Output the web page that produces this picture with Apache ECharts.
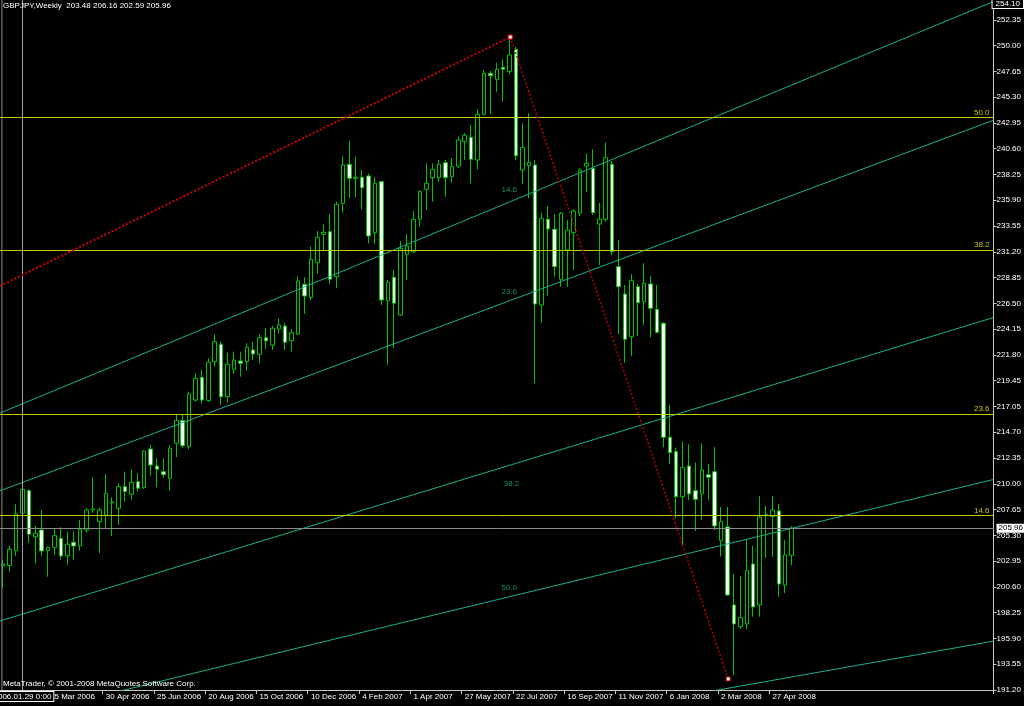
<!DOCTYPE html>
<html><head><meta charset="utf-8">
<script src="https://cdn.jsdelivr.net/npm/echarts@6/dist/echarts.min.js"></script>
<style>html,body{margin:0;padding:0;background:#000}#c{width:1024px;height:706px}</style>
</head><body><div id="c"></div>
<script>
// ---- data (GBPJPY weekly) ----
const startDate = '2006-01-08';
const totalSlots = 155; // visible weekly slots incl. empty right margin
const opens  = [202.52,202.55,203.89,207.33,209.39,205.19,205.80,203.93,204.22,205.04,203.46,204.68,204.37,205.80,207.63,206.56,207.17,208.27,207.78,209.75,209.06,210.21,209.66,213.19,211.64,211.12,210.52,213.71,215.78,213.40,217.66,219.73,217.60,221.16,222.75,217.96,220.46,221.22,221.16,222.23,221.83,223.35,222.68,224.14,224.41,223.07,223.69,228.22,227.03,230.19,232.78,233.02,228.91,235.61,239.17,237.89,237.98,238.10,232.93,237.58,226.72,228.86,225.42,230.96,231.19,234.15,236.89,237.95,237.95,239.32,238.04,239.01,241.23,241.63,239.56,243.73,247.47,246.92,248.02,247.62,249.66,238.65,239.04,239.11,226.33,234.15,233.24,228.68,231.35,232.93,234.70,239.01,238.80,233.72,234.15,239.17,229.83,227.33,223.44,228.00,226.63,228.25,225.94,224.66,214.26,212.95,208.84,211.64,209.39,209.09,210.85,211.12,204.83,206.08,198.96,196.98,197.23,202.70,198.96,207.11,207.02,207.54,200.78,203.48];
const closes = [202.70,204.04,207.26,209.52,205.41,205.50,203.89,204.19,205.28,203.43,204.50,204.34,205.87,207.63,207.72,207.63,209.15,208.36,209.75,209.30,210.15,209.61,213.01,211.73,211.34,210.85,213.26,215.78,213.49,218.21,219.64,217.66,221.10,222.98,217.96,220.92,221.31,221.01,222.47,221.86,223.35,223.05,224.21,224.51,222.93,223.80,228.52,227.15,230.50,232.51,232.96,228.68,235.52,239.11,237.89,237.98,237.03,232.63,237.44,226.79,228.40,226.49,231.50,231.71,234.15,236.67,237.44,238.71,239.17,237.95,238.95,241.39,241.82,239.63,243.73,247.47,247.25,247.84,247.84,249.14,239.95,240.72,239.32,226.42,234.24,233.27,229.83,234.70,233.17,234.91,238.65,239.26,234.75,234.15,239.77,231.19,228.00,223.20,228.55,226.54,228.31,226.03,223.84,214.26,212.86,208.84,211.49,209.09,208.60,211.28,210.61,206.17,206.56,199.87,197.23,197.80,202.09,198.78,206.99,207.23,207.63,200.87,203.52,205.96];
const lows   = [200.51,202.00,203.43,207.08,204.62,202.73,203.43,201.54,203.52,203.06,202.61,203.06,203.91,205.56,207.38,203.68,205.96,205.25,206.26,208.38,208.54,209.30,209.55,210.73,209.70,210.57,209.39,212.44,213.26,213.17,217.51,217.30,217.50,220.70,217.21,217.42,220.04,219.79,220.34,221.31,221.01,222.32,222.23,223.75,222.23,222.07,223.59,225.51,226.79,229.16,231.35,228.22,227.86,234.75,236.07,236.16,235.06,231.96,231.90,226.33,220.86,222.38,225.33,228.61,231.05,233.48,235.00,235.76,237.58,236.21,237.49,238.80,239.56,237.44,238.71,243.60,243.76,245.79,244.88,247.38,239.56,237.37,236.07,219.19,224.72,227.18,228.91,228.00,228.00,229.53,234.45,236.67,234.54,229.98,233.93,230.89,223.69,221.07,221.68,223.50,224.51,223.38,223.75,213.35,211.82,206.87,204.43,208.54,205.71,206.69,208.54,205.80,203.37,199.78,192.57,196.77,196.77,197.89,197.89,203.25,203.34,199.69,200.05,202.59];
const highs  = [203.07,204.34,208.15,209.82,209.54,206.17,207.63,204.28,205.96,206.05,205.59,205.65,206.71,207.78,210.61,207.87,210.91,208.79,210.06,211.12,211.34,210.98,213.10,213.56,212.34,212.34,213.56,216.39,216.29,218.42,220.10,220.40,221.47,223.66,222.98,221.98,222.07,222.07,222.84,222.98,223.66,224.21,224.42,225.12,224.66,224.11,228.91,228.86,231.65,233.08,233.69,234.63,235.76,239.86,241.32,239.86,238.65,238.35,237.98,237.65,228.61,229.53,232.17,232.81,234.91,236.82,239.26,239.26,239.56,239.56,239.72,241.69,242.00,242.75,244.19,247.77,247.68,248.44,248.75,250.67,249.90,242.91,243.82,239.56,234.75,235.36,234.63,234.82,234.09,235.09,238.80,240.17,240.54,235.67,241.14,239.47,232.26,228.16,229.13,228.25,230.14,228.98,228.16,224.78,217.21,213.31,213.86,213.62,211.96,213.72,211.82,213.38,207.90,207.90,201.79,201.61,204.98,204.34,208.90,207.99,208.90,208.17,204.89,206.16];

const yTickLabels = ['191.20','193.55','195.90','198.25','200.60','202.95','205.30','207.65','210.00','212.35','214.70','217.05','219.45','221.80','224.15','226.50','228.85','231.20','233.55','235.90','238.25','240.60','242.95','245.30','247.65','250.00','252.35'];
const xTickLabels = ['5 Mar 2006','30 Apr 2006','25 Jun 2006','20 Aug 2006','15 Oct 2006','10 Dec 2006','4 Feb 2007','1 Apr 2007','27 May 2007','22 Jul 2007','16 Sep 2007','11 Nov 2007','6 Jan 2008','2 Mar 2008','27 Apr 2008'];
const xTickFirst = 8, xTickStep = 8;

// Fibonacci retracement (horizontal) levels
const retLevels = ['50.0','38.2','23.6','14.6'];
const retPrices = [243.43, 231.35, 216.38, 207.12];
// Fibonacci fan lines: price at left edge (slot -0.5) and right edge (slot 154.5)
const fanLevels = ['14.6','23.6','38.2','50.0','61.8'];
const fanLeft  = [216.47, 209.38, 197.50, 188.45, 179.57];
const fanRight = [254.03, 243.19, 225.19, 210.41, 195.66];
const fanLabelPos = [[78.95,236.82],[78.95,227.52],[79.3,210.00],[78.95,200.51]];
// red trend lines (slot, price)
const trendUp   = [[-0.5, 228.07], [79.1, 250.78]];
const trendDown = [[79.1, 250.78], [113.1, 192.21]];
const bidPrice = 205.96;
const topPrice = '254.10';
const crossIndex = 3, crossLabel = '2006.01.29 0:00';
const leftEdgeSlot = -0.2;

const yMin = 191.2, yMax = 254.16, yStep = 2.3519;

// ---- build ----
const categories = [];
for (let j = 0; j < totalSlots; j++) {
  const d = new Date(startDate + 'T00:00:00Z');
  d.setUTCDate(d.getUTCDate() + 7 * j);
  categories.push(d.toISOString().slice(0, 10));
}
const ohlc = opens.map((o, i) => [o, closes[i], lows[i], highs[i]]);
const isTick = (i) => i >= xTickFirst && (i - xTickFirst) % xTickStep === 0 && (i - xTickFirst) / xTickStep < xTickLabels.length;

const FONT = 'Liberation Sans';
const GREEN = '#00c400';
const TEAL = '#16b090';
const YEL = '#c8c800';
const GRAY = '#a0a0a0';

const series = [{
  type: 'candlestick', name: 'GBPJPY',
  data: ohlc, barWidth: 4, z: 2,
  itemStyle: { color: '#000', color0: '#fff', borderColor: GREEN, borderColor0: GREEN, borderWidth: 1 },
  markLine: {
    silent: true, symbol: 'none', animation: false,
    data: [
      ...retPrices.map((p, i) => ({
        yAxis: p,
        lineStyle: { color: YEL, width: 1, type: 'solid' },
        label: { show: true, position: 'insideEndTop', formatter: retLevels[i], color: YEL, fontSize: 8, fontFamily: FONT, distance: [4, 1] }
      })),
      {
        yAxis: bidPrice,
        lineStyle: { color: '#8a8a8a', width: 1, type: 'solid' },
        label: { show: true, position: 'end', formatter: bidPrice.toFixed(2), color: '#000', backgroundColor: '#fff', padding: [1, 2, 0, 2], fontSize: 8, fontFamily: FONT, distance: 3 }
      },
      {
        xAxis: categories[crossIndex],
        lineStyle: { color: GRAY, width: 1, type: 'solid' },
        label: { show: true, position: 'start', formatter: crossLabel, color: '#fff', backgroundColor: '#000', borderColor: '#fff', borderWidth: 1, padding: [1, 2, 0, 2], fontSize: 8, fontFamily: FONT, distance: 2 }
      }
    ]
  }
}];

// left border line of the chart window
series.push({
  type: 'line', xAxisIndex: 1, yAxisIndex: 0, symbol: 'none', z: 3, silent: true,
  data: [[leftEdgeSlot, yMin], [leftEdgeSlot, yMax]],
  lineStyle: { color: '#8a8a8a', width: 1 }
});
fanLevels.forEach((lv, i) => {
  series.push({
    type: 'line', xAxisIndex: 1, yAxisIndex: 0, symbol: 'none', z: 3, silent: true,
    data: [[-0.5, fanLeft[i]], [totalSlots - 0.5, fanRight[i]]],
    lineStyle: { color: TEAL, width: 1 }
  });
});
series.push({
  type: 'scatter', xAxisIndex: 1, yAxisIndex: 0, symbolSize: 1, z: 4, silent: true,
  itemStyle: { color: 'rgba(0,0,0,0)' },
  data: fanLabelPos.map((p, i) => [p[0], p[1], fanLevels[i]]),
  label: { show: true, position: 'inside', formatter: (p) => p.value[2], color: TEAL, fontSize: 8, fontFamily: FONT }
});
series.push({
  type: 'line', xAxisIndex: 1, yAxisIndex: 0, z: 5, silent: true,
  data: [{ value: trendUp[0], symbol: 'none' }, { value: trendUp[1] }],
  symbol: 'rect', symbolSize: 4,
  itemStyle: { color: '#fff', borderColor: '#d00000', borderWidth: 1 },
  lineStyle: { color: '#d00000', width: 2, type: [2, 2] }
});
series.push({
  type: 'line', xAxisIndex: 1, yAxisIndex: 0, z: 5, silent: true,
  data: trendDown, symbol: 'rect', symbolSize: 4,
  itemStyle: { color: '#fff', borderColor: '#c00000', borderWidth: 1 },
  lineStyle: { color: '#b80000', width: 1.5, type: [2, 2] }
});

const chart = echarts.init(document.getElementById('c'), null, { renderer: 'canvas' });
chart.setOption({
  backgroundColor: '#000',
  animation: false,
  title: [
    { text: 'GBPJPY,Weekly  203.48 206.16 202.59 205.96', left: 3, top: 2, padding: 0,
      textStyle: { color: '#fff', fontSize: 8, fontWeight: 'normal', fontFamily: FONT } },
    { text: 'MetaTrader, © 2001-2008 MetaQuotes Software Corp.', left: 3, top: 680, padding: 0,
      textStyle: { color: '#fff', fontSize: 8, fontWeight: 'normal', fontFamily: FONT } }
  ],
  graphic: [{
    type: 'text', right: 0, top: -3, z: 100,
    style: { text: topPrice, fill: '#fff', backgroundColor: '#000', borderColor: '#fff', borderWidth: 1, padding: [2, 3, 0, 3], font: '8px ' + FONT }
  }],
  grid: { left: 0, right: 29, top: 0, bottom: 16, containLabel: false },
  xAxis: [{
    type: 'category', data: categories, boundaryGap: true,
    axisLine: { onZero: false, lineStyle: { color: '#c8c8c8', width: 1 } },
    axisTick: { show: true, interval: (i) => isTick(i), length: 4, lineStyle: { color: '#c8c8c8' } },
    axisLabel: {
      interval: (i) => isTick(i), color: '#fff', fontSize: 8, fontFamily: FONT, align: 'left', margin: 3,
      formatter: (v, i) => isTick(i) ? xTickLabels[(i - xTickFirst) / xTickStep] : ''
    },
    splitLine: { show: false }
  }, {
    type: 'value', min: -0.5, max: totalSlots - 0.5, show: false
  }],
  yAxis: [{
    type: 'value', position: 'right', min: yMin, max: yMax, interval: yStep, scale: true,
    axisLine: { show: true, onZero: false, lineStyle: { color: '#c8c8c8', width: 1 } },
    axisTick: { show: true, length: 3, lineStyle: { color: '#c8c8c8' } },
    axisLabel: {
      color: '#fff', fontSize: 8, fontFamily: FONT, margin: 3,
      formatter: (v) => {
        const k = Math.round((v - yMin) / yStep);
        if (Math.abs(v - (yMin + k * yStep)) < 0.01 && k >= 0 && k < yTickLabels.length) return yTickLabels[k];
        return '';
      }
    },
    splitLine: { show: false }
  }],
  series
});
</script></body></html>
